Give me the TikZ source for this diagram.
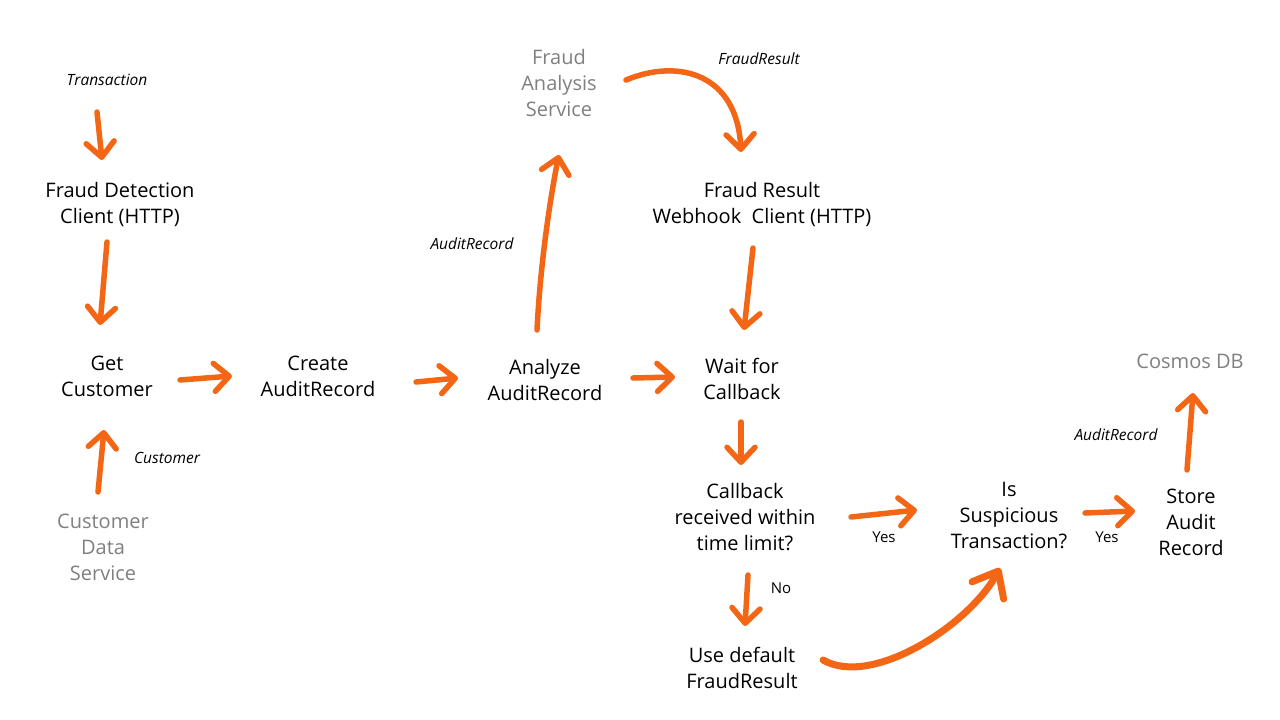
\documentclass[tikz,border=0pt]{standalone}
\usepackage{fontspec}
\setmainfont{Open Sans}
\usetikzlibrary{arrows.meta,calc}
\definecolor{arrorange}{RGB}{243,102,22}
\definecolor{svcgray}{RGB}{128,128,128}
\begin{document}
\begin{tikzpicture}[x=1pt,y=-1pt,
  txt/.style={align=center,inner sep=0pt,font=\fontsize{20}{26}\selectfont},
  svc/.style={txt,text=svcgray},
  lbl/.style={inner sep=0pt,font=\fontsize{15.5}{18}\selectfont\itshape},
  plbl/.style={inner sep=0pt,font=\fontsize{15}{18}\selectfont},
  arr/.style={draw=arrorange,line width=5.5pt,line cap=round,line join=round,
    -{Straight Barb[length=15pt,width=28pt,line cap=round,line join=round]}},
  bigarr/.style={arr,line width=7pt,-{Straight Barb[length=22pt,width=36pt,line cap=round,line join=round]}}]
\useasboundingbox (0,0) rectangle (1280,720);
\fill[white] (0,0) rectangle (1280,720);
% nodes
\node[lbl] (tr) at (107,80) {Transaction};
\node[txt] (fdc) at (120,204) {Fraud Detection\\Client (HTTP)};
\node[txt] (gc) at (107,376) {Get\\Customer};
\node[svc] (cds) at (103,547) {Customer\\Data\\Service};
\node[txt] (ca) at (318,376) {Create\\AuditRecord};
\node[txt] (aa) at (545,380) {Analyze\\AuditRecord};
\node[svc] (fas) at (559,83) {Fraud\\Analysis\\Service};
\node[txt] (frw) at (762,204) {Fraud Result\\Webhook\ \ Client (HTTP)};
\node[txt] (wfc) at (742,379) {Wait for\\Callback};
\node[txt] (cb) at (745,517) {Callback\\received within\\time limit?};
\node[txt] (isx) at (1009,515) {Is\\Suspicious\\Transaction?};
\node[txt] (sar) at (1191,522) {Store\\Audit\\Record};
\node[svc] (cdb) at (1190,361) {Cosmos DB};
\node[txt] (udf) at (742,668) {Use default\\FraudResult};
% labels
\node[lbl] (lcust) at (167,458) {Customer};
\node[lbl] (laud1) at (472,244) {AuditRecord};
\node[lbl] (lfr) at (759,59) {FraudResult};
\node[plbl] (lyes1) at (884,537) {Yes};
\node[plbl] (lyes2) at (1107,537) {Yes};
\node[lbl] (laud2) at (1116,435) {AuditRecord};
\node[plbl] (lno) at (781,588) {No};
% connectors
\draw[arr] ($(tr)+(-10,32)$) -- ($(fdc)+(-18,-44)$);
\draw[arr] ($(fdc)+(-13,38)$) -- ($(gc)+(-7,-51)$);
\draw[arr] ($(cds)+(-5,-55)$) -- ($(gc)+(-3,54)$);
\draw[arr] ($(gc)+(73,4)$) -- ($(ca)+(-86,0)$);
\draw[arr] ($(ca)+(98,6)$) -- ($(aa)+(-87,-2)$);
\draw[arr] ($(aa)+(-8,-50)$) .. controls ($(aa)+(-4,-130)$) and ($(fas)+(-5,95)$) .. ($(fas)+(0,72)$);
\draw[arr] ($(fas)+(67,-3)$) .. controls ($(fas)+(120,-25)$) and ($(frw)+(-25,-130)$) .. ($(frw)+(-21,-52)$);
\draw[arr] ($(frw)+(-9,44)$) -- ($(wfc)+(2,-49)$);
\draw[arr] ($(aa)+(88,-2)$) -- ($(wfc)+(-67,-2)$);
\draw[arr] ($(wfc)+(-1,43)$) -- ($(cb)+(-4,-52)$);
\draw[arr] ($(cb)+(106,0)$) -- ($(isx)+(-92,-5)$);
\draw[arr] ($(isx)+(76,-2)$) -- ($(sar)+(-56,-11)$);
\draw[arr] ($(sar)+(-4,-52)$) -- ($(cdb)+(3,32)$);
\draw[arr] ($(cb)+(3,58)$) -- ($(udf)+(3,-42)$);
\draw[bigarr] ($(udf)+(81,-8)$) .. controls ($(udf)+(130,20)$) and ($(isx)+(-40,110)$) .. ($(isx)+(-9,53)$);
\end{tikzpicture}
\end{document}
